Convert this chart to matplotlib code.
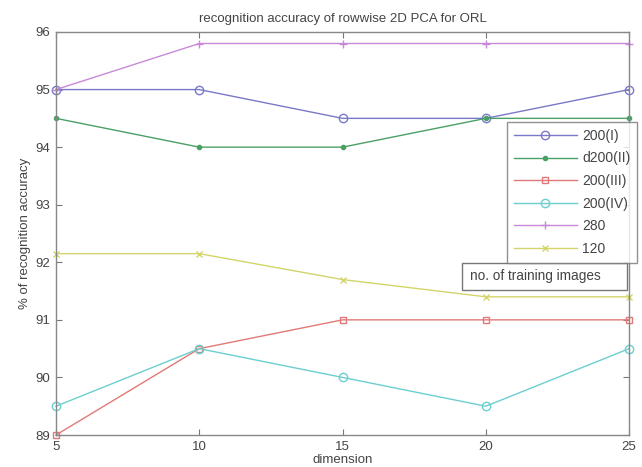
import matplotlib
matplotlib.use("Agg")
import matplotlib.pyplot as plt
from matplotlib.patches import Rectangle

plt.rcParams['font.family'] = ['Liberation Sans', 'DejaVu Sans']

dimension = [5, 10, 15, 20, 25]
acc_200_I = [95.0, 95.0, 94.5, 94.5, 95.0]
acc_d200_II = [94.5, 94.0, 94.0, 94.5, 94.5]
acc_200_III = [89.0, 90.5, 91.0, 91.0, 91.0]
acc_200_IV = [89.5, 90.5, 90.0, 89.5, 90.5]
acc_280 = [95.0, 95.8, 95.8, 95.8, 95.8]
acc_120 = [92.15, 92.15, 91.7, 91.4, 91.4]

series_labels = ['200(I)', 'd200(II)', '200(III)', '200(IV)', '280', '120']
x_ticks = [5, 10, 15, 20, 25]
y_ticks = [89, 90, 91, 92, 93, 94, 95, 96]

fig = plt.figure(figsize=(6.42, 4.67), dpi=100)
ax = fig.add_axes([0.0872, 0.0685, 0.8928, 0.863])

txt = '#444444'
styles = [
    dict(color='#7a78c8', marker='o', mfc='none', ms=6),
    dict(color='#4aa065', marker='.', ms=6),
    dict(color='#e07a78', marker='s', mfc='none', ms=5),
    dict(color='#6ccfcf', marker='o', mfc='none', ms=6),
    dict(color='#c88ad8', marker='+', ms=6),
    dict(color='#d4d46a', marker='x', ms=4),
]
data = [acc_200_I, acc_d200_II, acc_200_III, acc_200_IV, acc_280, acc_120]
for vals, lab, st in zip(data, series_labels, styles):
    ax.plot(dimension, vals, lw=1.0, label=lab, clip_on=False, **st)

ax.set_xlim(5, 25)
ax.set_ylim(89, 96)
ax.set_xticks(x_ticks)
ax.set_yticks(y_ticks)
ax.tick_params(direction='in', top=True, right=True, length=4, colors='#777777',
               labelcolor=txt, labelsize=9.5, pad=4)
for s in ax.spines.values():
    s.set_color('#888888')
    s.set_linewidth(1.0)

ax.set_title('recognition accuracy of rowwise 2D PCA for ORL', fontsize=9.5, color=txt, pad=7)
ax.set_xlabel('dimension', fontsize=9.5, color=txt, labelpad=1)
ax.set_ylabel('% of recognition accuracy', fontsize=9.5, color=txt, labelpad=3)

leg = ax.legend(loc='upper left', bbox_to_anchor=(0.787, 0.777), fontsize=10,
                frameon=True, fancybox=False, borderpad=0.5, labelspacing=0.62,
                handlelength=4.5, handletextpad=0.4, borderaxespad=0)
leg.get_frame().set_edgecolor('#777777')
leg.get_frame().set_linewidth(1.0)
leg.set_zorder(6)
for t in leg.get_texts():
    t.set_color(txt)

# caption box for the legend
ax.add_patch(Rectangle((0.7086, 0.36), 0.288, 0.067, transform=ax.transAxes,
                       fc='white', ec='#777777', lw=1.0, zorder=5, clip_on=False))
ax.text(0.7225, 0.3935, 'no. of training images', transform=ax.transAxes,
        fontsize=9.8, color=txt, va='center', ha='left', zorder=5.5)

fig.savefig('out.png', dpi=100)
